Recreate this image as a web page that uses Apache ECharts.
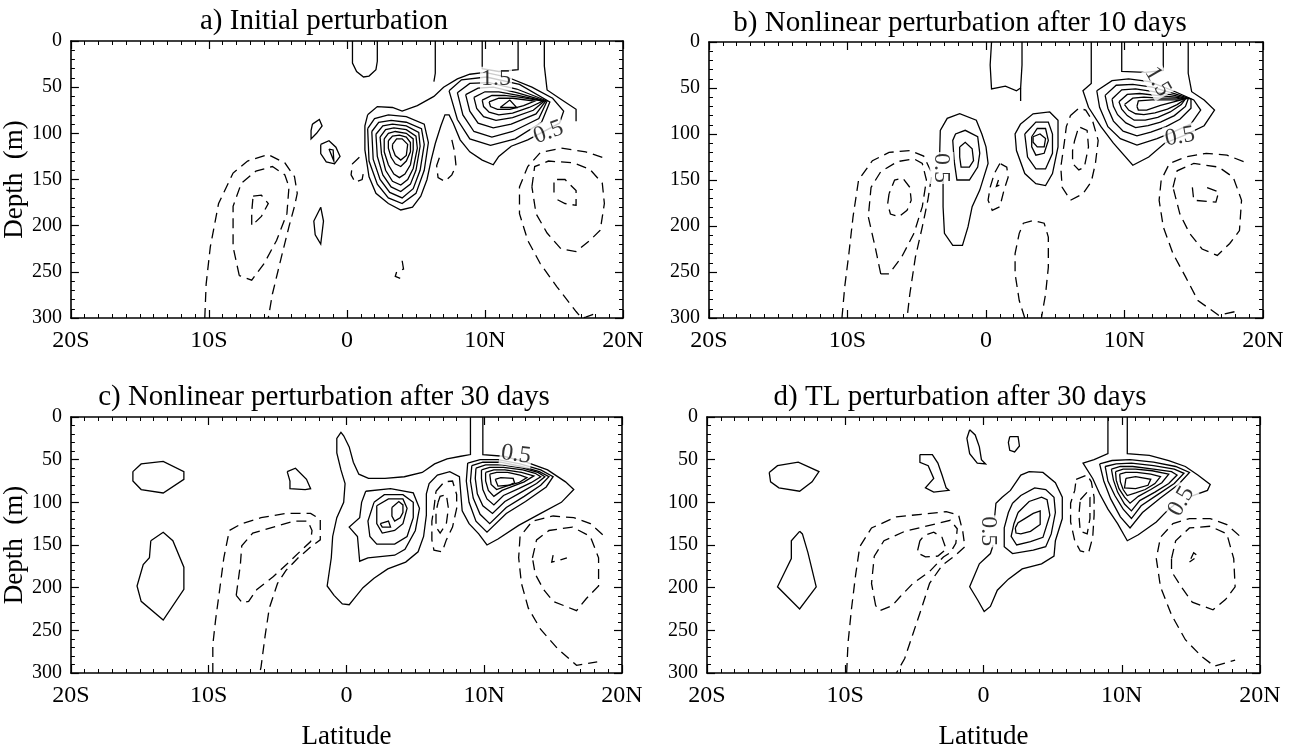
<!DOCTYPE html>
<html>
<head>
<meta charset="utf-8">
<script src="https://cdn.jsdelivr.net/npm/echarts@6/dist/echarts.min.js"></script>
<style>
  html, body { margin: 0; padding: 0; background: #fff; }
  #chart { width: 1297px; height: 751px; }
</style>
</head>
<body>
<div id="chart"></div>
<script>
// contour polylines: [latitude, depth(m)]
var latTicks = ['20S', '10S', '0', '10N', '20N']
var depthTicks = [0, 50, 100, 150, 200, 250, 300]
var panelTitles = [
  'a) Initial perturbation',
  'b) Nonlinear perturbation after 10 days',
  'c) Nonlinear perturbation after 30 days',
  'd) TL perturbation after 30 days'
]

// panel a
var aSolid = [
  [[0.4,0],[0.4,24],[0.7,33],[1.2,39],[1.6,38],[2.1,31],[2.2,22],[2.2,0]],
  [[6.4,0],[6.4,35],[6.3,44]],
  [[9.8,0],[9.8,30],[11.0,33],[12.4,31],[12.4,0]],
  [[14.3,0],[14.3,27],[14.5,53],[15.5,63],[16.6,74],[16.6,87]],
  [[1.5,80],[2.2,71],[3.3,72],[4.0,76],[5.1,70],[6.3,60],[7.0,50],[8.0,41],[8.9,36],[10.0,34],[11.6,39],[13.4,50],[14.9,62],[15.7,76],[15.4,89],[14.0,100],[13.1,107],[11.9,114],[11.0,125],[10.6,134],[9.8,129],[8.9,120],[8.2,107],[7.7,89],[7.4,80],[7.1,80],[6.8,92],[6.4,111],[6.1,129],[5.8,150],[5.35,168],[4.75,180],[3.9,183],[3.0,176],[2.1,165],[1.6,147],[1.3,118],[1.3,92],[1.5,80]],
  [[7.4,54],[8.3,42],[10.1,39],[12.5,47],[14.7,66],[14.1,88],[12.2,106],[10.4,113],[8.9,106],[8.0,85],[7.4,54]],
  [[8.0,56],[8.9,46],[10.3,45],[12.3,52],[14.5,65],[13.9,84],[12.0,98],[10.5,104],[9.2,98],[8.4,80],[8.0,56]],
  [[8.6,58],[9.5,51],[10.6,50],[12.3,56],[14.4,65],[13.7,79],[11.9,90],[10.6,94],[9.5,89],[8.9,76],[8.6,58]],
  [[9.2,61],[10.0,55],[11.0,55],[12.4,59],[14.3,65],[13.5,75],[12.0,83],[10.8,86],[9.9,82],[9.4,73],[9.2,61]],
  [[9.8,64],[10.5,59],[11.4,59],[12.6,61],[14.2,65],[13.2,72],[12.0,78],[11.0,80],[10.3,77],[9.9,71],[9.8,64]],
  [[10.3,66],[11.0,62],[12.0,62],[13.6,65],[12.8,70],[11.8,74],[10.9,74],[10.4,71],[10.3,66]],
  [[11.1,72],[11.8,64],[12.3,72],[11.1,72]],
  [[1.5,95],[2.0,84],[3.0,80],[4.3,82],[5.6,90],[5.9,110],[5.6,140],[5.0,165],[4.0,176],[3.0,170],[2.2,155],[1.6,130],[1.5,95]],
  [[1.8,98],[2.3,88],[3.2,86],[4.3,88],[5.4,95],[5.6,112],[5.3,140],[4.8,160],[4.0,170],[3.1,164],[2.4,150],[1.9,128],[1.8,98]],
  [[2.1,101],[2.6,92],[3.3,90],[4.3,92],[5.2,99],[5.3,114],[5.0,140],[4.6,155],[3.9,163],[3.2,158],[2.6,145],[2.2,125],[2.1,101]],
  [[2.4,104],[2.8,96],[3.4,94],[4.3,96],[5.0,103],[5.1,116],[4.8,138],[4.4,150],[3.9,156],[3.3,152],[2.8,140],[2.5,122],[2.4,104]],
  [[2.7,106],[3.0,100],[3.5,98],[4.3,100],[4.8,106],[4.8,118],[4.6,134],[4.2,144],[3.8,148],[3.4,144],[3.0,134],[2.7,120],[2.7,106]],
  [[3.0,108],[3.3,103],[3.8,102],[4.3,104],[4.6,110],[4.6,120],[4.3,130],[3.9,136],[3.5,133],[3.2,126],[3.0,116],[3.0,108]],
  [[3.3,112],[3.6,106],[4.0,106],[4.4,112],[4.3,124],[3.9,129],[3.5,124],[3.3,116],[3.3,112]],
  [[-2.5,90],[-2.0,85],[-1.8,92],[-2.2,100],[-2.6,106],[-2.6,97],[-2.5,90]],
  [[-1.9,112],[-1.3,108],[-0.8,115],[-0.5,125],[-0.9,133],[-1.5,131],[-1.9,122],[-1.9,112]],
  [[-1.3,117],[-1.0,118],[-0.95,130],[-1.3,117]],
  [[-1.9,180],[-1.7,195],[-1.9,220],[-2.3,210],[-2.4,195],[-1.9,180]]
]
var aDashed = [
  [[0.9,126],[0.4,133],[0.3,145],[0.6,153],[1.1,150],[1.2,142]],
  [[7.6,107],[7.8,120],[7.9,135],[7.6,145],[7.1,152],[6.6,148],[6.5,135],[6.8,122]],
  [[4.0,238],[4.1,247],[3.6,250],[3.5,255],[4.0,258]],
  [[-10.3,300],[-10.2,263],[-9.9,223],[-9.3,176],[-8.25,143],[-7.2,130],[-5.7,123],[-4.5,132],[-3.8,147],[-3.6,165],[-3.8,179],[-4.2,201],[-4.8,237],[-5.4,274],[-5.7,300]],
  [[-7.8,254],[-8.25,223],[-8.25,179],[-7.65,154],[-6.6,141],[-5.4,136],[-4.5,145],[-4.2,158],[-4.35,187],[-5.1,216],[-6.0,241],[-6.9,259],[-7.8,254]],
  [[-6.8,168],[-6.2,167],[-5.7,176],[-6.2,190],[-6.9,200],[-6.9,185],[-6.8,168]],
  [[18.5,126],[17.3,120],[15.5,116],[14.0,121],[13.1,136],[12.5,158],[12.5,187],[13.1,216],[14.0,241],[15.2,266],[16.6,293],[17.0,300],[17.3,299],[18.2,294]],
  [[13.4,158],[13.6,136],[14.6,130],[16.4,132],[17.6,139],[18.5,154],[18.65,176],[18.35,205],[17.6,216],[16.6,228],[15.5,225],[14.5,208],[13.7,187],[13.4,158]],
  [[15.0,164],[15.0,150],[15.8,150],[16.6,162],[16.6,178],[15.8,176],[15.0,170]]
]
var aLabels = [[10.8, 41, '1.5'], [14.6, 99, '0.5']]
var aLabelAngles = [0, 20]

// panel b
var bSolid = [
  [[0.4,0],[0.3,25],[0.4,51],[1.4,48],[2.2,53],[2.5,50],[2.6,25],[2.6,0]],
  [[2.5,50],[2.5,64]],
  [[7.6,0],[7.6,27],[7.6,45],[7.0,53],[7.4,71],[8.3,92],[9.2,110],[10.6,134],[11.75,125],[12.9,110],[14.4,101],[15.75,91],[16.5,74],[15.75,63],[14.85,54],[14.6,34],[14.6,0]],
  [[9.8,0],[9.8,32],[11.5,33],[12.8,31],[12.8,0]],
  [[8.0,53],[9.1,42],[10.3,40],[11.8,43],[13.5,53],[15.0,63],[15.5,74],[14.8,89],[13.5,98],[12.35,105],[10.9,112],[9.7,105],[8.8,92],[8.2,71],[8.0,53]],
  [[8.6,58],[9.4,47],[10.6,46],[12.0,49],[13.6,56],[14.8,62],[14.8,72],[14.0,84],[13.0,92],[11.9,98],[10.9,102],[9.9,97],[9.2,86],[8.8,72],[8.6,58]],
  [[9.1,62],[9.8,52],[10.8,51],[12.1,54],[13.6,58],[14.6,62],[14.4,70],[13.6,80],[12.6,87],[11.7,91],[10.8,93],[10.1,88],[9.5,79],[9.2,70],[9.1,62]],
  [[9.6,65],[10.2,57],[11.1,56],[12.3,58],[13.7,60],[14.4,62],[14.1,68],[13.3,76],[12.4,82],[11.5,85],[10.7,85],[10.2,80],[9.8,73],[9.6,65]],
  [[10.0,68],[10.6,61],[11.4,60],[12.5,61],[13.8,61],[14.3,63],[13.8,68],[13.1,73],[12.2,77],[11.4,79],[10.8,78],[10.3,74],[10.0,68]],
  [[10.9,70],[11.0,64],[12.0,63],[13.2,63],[14.1,63],[12.6,69],[11.6,74],[11.0,74],[10.9,70]],
  [[-3.35,125],[-3.3,96],[-2.8,83],[-1.9,78],[-0.7,85],[-0.3,100],[0.0,114],[0.15,132],[-0.45,161],[-1.0,179],[-1.3,201],[-1.7,221],[-2.4,221],[-3.0,208],[-3.1,179],[-3.1,158],[-3.1,150]],
  [[-2.3,129],[-2.4,107],[-2.2,100],[-1.5,96],[-0.6,103],[-0.45,121],[-0.6,136],[-1.2,150],[-2.1,150],[-2.3,129]],
  [[-1.9,114],[-1.5,109],[-1.0,116],[-0.9,129],[-1.2,136],[-1.8,136],[-1.9,125],[-1.9,114]],
  [[2.5,89],[3.4,78],[4.6,76],[5.2,85],[5.2,114],[4.8,143],[4.3,156],[3.6,154],[2.8,143],[2.2,118],[2.1,100],[2.5,89]],
  [[2.8,100],[3.6,87],[4.5,87],[4.8,100],[4.8,121],[4.3,138],[3.6,138],[3.0,125],[2.8,100]],
  [[3.3,103],[3.7,94],[4.3,94],[4.5,107],[4.2,121],[3.6,123],[3.3,114],[3.3,103]],
  [[3.4,103],[3.9,100],[4.3,105],[4.2,114],[3.7,114],[3.4,109],[3.4,103]]
]
var bDashed = [
  [[6.1,80],[6.7,72],[7.2,74],[7.7,86],[8.1,107],[7.9,132],[7.6,152],[7.0,165],[6.1,172],[5.5,158],[5.4,136],[5.65,110],[5.8,92],[6.1,80]],
  [[6.4,107],[6.7,92],[7.3,96],[7.4,114],[7.1,136],[6.7,139],[6.25,132],[6.25,118],[6.4,107]],
  [[1.0,132],[0.6,143],[0.3,158],[0.15,172],[0.45,183],[1.0,179],[1.3,161],[1.6,147],[1.5,136],[1.0,132]],
  [[0.9,150],[0.75,157],[1.2,154]],
  [[2.8,300],[2.4,281],[2.1,252],[2.1,230],[2.4,208],[2.7,197],[3.4,194],[4.2,197],[4.5,212],[4.5,245],[4.3,274],[4.0,300]],
  [[-10.4,300],[-10.2,266],[-9.9,230],[-9.6,190],[-9.2,150],[-8.2,129],[-7.0,120],[-5.5,118],[-4.5,124],[-3.9,143],[-4.2,172],[-4.6,201],[-5.1,234],[-5.5,274],[-5.7,300]],
  [[-7.6,252],[-8.0,223],[-8.5,190],[-8.3,158],[-7.6,141],[-6.4,130],[-5.2,127],[-4.6,132],[-4.3,150],[-4.6,179],[-5.2,208],[-6.1,234],[-7.0,252],[-7.6,252]],
  [[-7.0,165],[-7.1,176],[-6.9,187],[-6.3,190],[-5.7,183],[-5.4,172],[-5.5,158],[-6.0,148],[-6.6,150],[-7.0,165]],
  [[18.6,130],[17.4,123],[15.9,121],[14.4,125],[13.25,132],[12.65,150],[12.5,172],[12.8,201],[13.5,230],[14.4,255],[15.3,281],[16.8,297],[18.3,292]],
  [[13.5,158],[13.8,140],[15.0,132],[16.8,136],[17.85,147],[18.45,172],[18.3,205],[17.6,219],[16.7,232],[15.6,225],[14.7,208],[14.0,187],[13.5,158]],
  [[14.9,158],[15.0,172],[16.6,174],[16.8,163],[15.9,158]]
]
var bLabels = [[12.4, 43, '1.5'], [14.0, 103, '0.5'], [-3.2, 137, '0.5']]
var bLabelAngles = [-60, 10, -90]

// panel c
var cSolid = [
  [[9.0,0],[9.0,44],[8.3,46],[7.3,49],[6.4,55],[5.5,65],[4.2,70],[2.8,72],[1.6,72],[0.9,67],[0.5,53],[0.2,35],[-0.2,22],[-0.4,18],[-0.7,25],[-0.7,42],[-0.4,62],[-0.1,78],[-0.2,100],[-0.7,118],[-1.0,140],[-1.1,165],[-1.4,198],[-0.9,209],[-0.3,219],[0.2,220],[0.6,212],[1.2,200],[2.0,189],[3.0,178],[4.3,170],[5.2,158],[5.6,140],[5.8,115],[5.8,90],[6.0,78],[6.6,68],[7.5,64],[8.2,70],[8.3,90],[8.4,110],[8.9,125],[9.6,137],[10.2,150],[11.0,143],[12.5,127],[14.1,113],[15.6,100],[16.5,85],[15.9,76],[14.6,62],[12.9,52],[11.4,46],[9.9,44],[9.9,0]],
  [[8.8,54],[9.7,50],[11.0,50],[12.6,55],[14.1,62],[15.0,70],[14.5,82],[13.0,99],[11.6,113],[10.2,135],[9.4,122],[8.9,100],[8.7,75],[8.8,54]],
  [[9.1,57],[9.9,53],[11.2,53],[12.7,58],[14.0,64],[14.7,70],[14.1,80],[12.9,93],[11.6,106],[10.4,125],[9.7,114],[9.2,95],[9.0,75],[9.1,57]],
  [[9.4,60],[10.1,56],[11.3,56],[12.8,60],[13.9,65],[14.4,70],[13.8,78],[12.7,88],[11.5,99],[10.6,113],[9.9,104],[9.5,90],[9.35,72],[9.4,60]],
  [[9.8,62],[10.4,59],[11.4,59],[12.8,62],[13.7,66],[14.1,70],[13.4,77],[12.5,84],[11.4,92],[10.7,103],[10.2,96],[9.9,85],[9.8,72],[9.8,62]],
  [[10.1,65],[10.7,62],[11.5,62],[12.7,65],[13.6,69],[12.9,76],[12.1,81],[11.3,86],[10.7,93],[10.3,86],[10.1,75],[10.1,65]],
  [[10.4,67],[10.9,65],[11.7,65],[12.6,68],[13.1,71],[12.5,77],[11.6,81],[10.9,85],[10.5,79],[10.4,67]],
  [[10.8,73],[11.2,71],[12.1,72],[12.2,77],[11.8,80],[11.0,81],[10.8,73]],
  [[1.4,87],[3.2,84],[4.85,89],[5.3,107],[5.0,133],[4.25,155],[3.5,162],[1.56,165],[0.96,169],[0.8,140],[0.2,129],[0.96,118],[1.1,100],[1.4,87]],
  [[2.0,100],[2.75,91],[4.1,91],[4.85,100],[4.85,118],[4.4,140],[3.5,149],[2.2,149],[1.7,140],[1.56,122],[2.0,100]],
  [[2.2,104],[3.05,96],[4.1,96],[4.4,107],[4.1,125],[3.5,133],[2.6,136],[2.2,125],[2.2,104]],
  [[3.3,106],[3.8,99],[4.1,103],[4.1,112],[3.9,118],[3.5,122],[3.3,116],[3.3,106]],
  [[2.45,125],[3.05,122],[3.2,129],[2.6,129],[2.45,125]],
  [[-15.5,64],[-14.9,55],[-13.3,52],[-11.8,64],[-11.8,73],[-13.3,89],[-14.9,85],[-15.5,75],[-15.5,64]],
  [[-14.2,145],[-13.3,135],[-12.6,145],[-11.8,176],[-11.8,202],[-13.3,238],[-14.9,216],[-15.2,198],[-14.75,173],[-14.3,165],[-14.2,145]],
  [[-4.3,64],[-3.7,60],[-2.9,73],[-2.6,84],[-3.0,85],[-4.1,84],[-4.1,75],[-4.3,64]]
]
var cDashed = [
  [[6.5,87],[7.1,76],[7.7,75],[8.0,91],[8.0,107],[7.7,129],[7.25,144],[6.95,158],[6.35,156],[6.2,144],[6.2,122],[6.35,107],[6.5,87]],
  [[6.65,100],[6.8,93],[7.25,91],[7.4,107],[7.25,125],[6.8,136],[6.5,129],[6.5,111],[6.65,100]],
  [[-9.7,300],[-9.7,267],[-9.5,238],[-9.2,202],[-8.9,165],[-8.5,133],[-7.6,125],[-6.2,118],[-4.4,113],[-2.6,113],[-1.9,120],[-1.9,144],[-2.5,151],[-3.5,165],[-4.4,180],[-5.0,195],[-5.6,224],[-5.9,256],[-6.2,293],[-6.3,300]],
  [[-8.0,209],[-7.7,173],[-7.6,151],[-6.8,136],[-5.3,129],[-3.8,122],[-2.8,122],[-2.5,133],[-2.6,146],[-3.2,155],[-4.1,169],[-5.3,187],[-6.5,202],[-7.1,216],[-7.55,218],[-8.0,209]],
  [[18.6,138],[17.7,125],[16.5,118],[15.0,116],[13.5,122],[12.6,140],[12.5,165],[12.7,195],[13.2,224],[14.1,249],[15.3,271],[16.7,291],[18.2,287]],
  [[13.5,165],[13.8,144],[14.7,133],[16.4,129],[17.7,140],[18.3,165],[18.3,198],[17.4,213],[16.7,227],[15.0,216],[14.3,202],[13.7,184],[13.5,165]],
  [[15.0,162],[14.9,170],[15.6,167],[16.0,165]]
]
var cLabels = [[12.3, 44, '0.5']]
var cLabelAngles = [-8]

// panel d
var dSolid = [
  [[-15.5,65],[-14.9,57],[-13.4,53],[-11.9,64],[-12.4,76],[-13.3,87],[-14.8,83],[-15.4,76],[-15.5,65]],
  [[-13.3,134],[-13.9,145],[-13.9,166],[-14.9,199],[-13.3,225],[-12.1,199],[-12.7,159],[-13.1,137],[-13.3,134]],
  [[-4.6,44],[-3.7,44],[-3.3,54],[-3.0,68],[-2.7,83],[-2.5,86],[-3.6,88],[-4.2,83],[-3.6,72],[-4.0,57],[-4.6,53],[-4.6,44]],
  [[-1.0,15],[-0.6,21],[-0.3,35],[-0.15,50],[0.15,55],[-0.45,54],[-1.0,43],[-1.2,25],[-1.0,15]],
  [[1.9,23],[2.5,23],[2.6,34],[2.25,41],[1.9,39],[1.8,30],[1.9,23]],
  [[9.0,0],[9.0,43],[8.0,50],[7.2,54],[7.9,72],[8.4,90],[9.0,108],[9.7,125],[10.4,145],[11.2,138],[12.5,123],[13.4,108],[13.8,103]],
  [[15.0,93],[16.2,86],[16.4,79],[15.5,68],[14.6,58],[13.4,51],[12.0,45],[10.4,43],[10.4,0]],
  [[8.4,55],[9.3,51],[10.6,50],[12.3,53],[13.9,58],[14.9,65],[14.1,79],[12.8,95],[11.5,112],[10.6,130],[9.9,117],[9.2,96],[8.7,75],[8.4,55]],
  [[8.8,58],[9.6,55],[10.7,54],[12.3,57],[13.8,61],[14.5,66],[13.8,78],[12.6,91],[11.4,104],[10.7,119],[10.1,108],[9.5,92],[9.0,75],[8.8,58]],
  [[9.25,61],[9.9,58],[10.8,58],[12.3,61],[13.6,64],[14.0,68],[13.4,78],[12.4,88],[11.3,98],[10.7,110],[10.2,102],[9.7,88],[9.4,74],[9.25,61]],
  [[9.55,64],[10.1,61],[11.0,61],[12.2,63],[13.4,67],[12.9,77],[12.1,85],[11.2,93],[10.6,101],[10.2,94],[9.8,84],[9.6,74],[9.55,64]],
  [[9.85,67],[10.3,65],[11.1,65],[12.1,67],[12.8,70],[12.4,78],[11.7,85],[11.0,89],[10.4,92],[10.1,85],[9.9,76],[9.85,67]],
  [[10.3,72],[11.0,70],[12.1,73],[11.9,80],[11.0,84],[10.2,83],[10.3,72]],
  [[0.7,150],[0.5,160],[-0.3,172],[-1.0,199],[-0.4,215],[0.05,228],[0.5,222],[1.0,203],[1.8,190],[2.8,178],[4.2,172],[5.1,163],[5.2,145],[5.7,119],[5.7,94],[5.2,77],[4.3,65],[3.3,64],[2.7,68],[1.95,86],[1.35,94],[0.9,101],[0.8,118]],
  [[2.1,101],[2.7,92],[3.7,83],[4.5,85],[5.1,94],[5.2,112],[4.9,137],[4.5,152],[3.6,156],[2.1,160],[1.5,152],[1.5,130],[1.8,112],[2.1,101]],
  [[2.5,112],[3.3,99],[4.2,94],[4.6,97],[4.8,115],[4.3,141],[3.4,146],[2.4,150],[2.0,140],[2.2,125],[2.5,112]],
  [[2.3,130],[2.5,124],[2.9,120],[3.6,113],[4.1,110],[4.1,126],[3.4,134],[2.7,137],[2.35,136],[2.3,130]]
]
var dDashed = [
  [[6.7,73],[7.5,68],[7.8,76],[8.0,94],[8.0,115],[7.9,141],[7.6,159],[7.0,157],[6.6,145],[6.3,123],[6.3,101],[6.6,86],[6.7,73]],
  [[7.0,97],[7.5,88],[7.7,94],[7.7,119],[7.5,137],[7.0,134],[6.9,115],[7.0,97]],
  [[-9.9,300],[-9.8,265],[-9.55,225],[-9.25,185],[-8.95,152],[-8.1,130],[-6.3,117],[-4.5,114],[-2.7,111],[-1.8,115],[-1.5,134],[-1.35,152],[-2.1,163],[-3.0,174],[-3.9,195],[-4.5,225],[-5.1,254],[-5.7,283],[-6.3,300]],
  [[-7.8,221],[-8.1,195],[-7.9,163],[-7.2,145],[-5.7,134],[-3.9,127],[-2.4,121],[-1.9,131],[-2.0,148],[-2.4,159],[-2.9,164],[-3.9,181],[-5.1,195],[-6.0,210],[-6.6,221],[-7.5,227],[-7.8,221]],
  [[-4.6,145],[-4.8,159],[-4.2,164],[-3.3,163],[-2.7,155],[-3.0,141],[-3.6,135],[-4.3,139],[-4.6,145]],
  [[18.5,139],[17.6,126],[16.4,119],[14.9,119],[13.7,125],[12.8,141],[12.5,166],[12.8,199],[13.6,232],[14.6,261],[15.8,281],[16.7,292],[18.2,285]],
  [[13.6,166],[13.9,145],[14.9,130],[16.4,128],[17.6,137],[18.1,166],[18.2,199],[17.5,214],[16.6,226],[15.1,217],[14.3,199],[13.6,181],[13.6,166]],
  [[15.0,166],[15.2,159],[15.5,163],[14.9,170]]
]
var dLabels = [[0.35, 134, '0.5'], [14.3, 99, '0.5']]
var dLabelAngles = [-90, 60]

var FONT = 'Liberation Serif, Times New Roman, serif'
var grids = [
  { left: 67, top: 41, width: 556, height: 277 },
  { left: 709, top: 42, width: 554, height: 276 },
  { left: 68, top: 417, width: 554, height: 276 },
  { left: 707, top: 417, width: 553, height: 276 }
]
var titlePos = [[319, 2], [955, 4], [319, 378], [955, 378]]
var panels = [
  { solid: aSolid, dashed: aDashed, labels: aLabels, angles: aLabelAngles },
  { solid: bSolid, dashed: bDashed, labels: bLabels, angles: bLabelAngles },
  { solid: cSolid, dashed: cDashed, labels: cLabels, angles: cLabelAngles },
  { solid: dSolid, dashed: dDashed, labels: dLabels, angles: dLabelAngles }
]

function latLabel(v) {
  var i = Math.round((v + 20) / 10)
  return latTicks[i] !== undefined ? latTicks[i] : ''
}

var xAxes = [], yAxes = [], series = [], titles = []
var axisLineStyle = { color: '#000', width: 1.6 }

panels.forEach(function (p, i) {
  var bottomRow = i >= 2
  var leftCol = i % 2 === 0
  titles.push({
    text: panelTitles[i], left: titlePos[i][0], top: titlePos[i][1], textAlign: 'center',
    textStyle: { fontFamily: FONT, fontSize: 29, fontWeight: 'normal', color: '#000' }
  })
  var xBase = {
    gridIndex: i, type: 'value', min: -20, max: 20, interval: 10,
    axisLine: { show: true, onZero: false, lineStyle: axisLineStyle },
    axisTick: { show: true, inside: true, length: 8, lineStyle: { color: '#000', width: 1.2 } },
    minorTick: { show: true, splitNumber: 10, length: 4, lineStyle: { color: '#000', width: 1 } },
    splitLine: { show: false }, minorSplitLine: { show: false }
  }
  xAxes.push(Object.assign({}, xBase, {
    position: 'bottom',
    axisLabel: { formatter: latLabel, fontFamily: FONT, fontSize: 24, color: '#000', margin: 11,
      showMinLabel: true, showMaxLabel: true },
    name: bottomRow ? 'Latitude' : '', nameLocation: 'middle', nameGap: 50,
    nameTextStyle: { fontFamily: FONT, fontSize: 27, color: '#000' }
  }))
  xAxes.push(Object.assign({}, xBase, { position: 'top', axisLabel: { show: false } }))
  var yBase = {
    gridIndex: i, type: 'value', inverse: true, min: 0, max: 300, interval: 50,
    axisLine: { show: true, onZero: false, lineStyle: axisLineStyle },
    axisTick: { show: true, inside: true, length: 8, lineStyle: { color: '#000', width: 1.2 } },
    minorTick: { show: true, splitNumber: 5, length: 4, lineStyle: { color: '#000', width: 1 } },
    splitLine: { show: false }, minorSplitLine: { show: false }
  }
  yAxes.push(Object.assign({}, yBase, {
    position: 'left',
    axisLabel: { fontFamily: FONT, fontSize: 20, color: '#000', margin: 9,
      formatter: function (v) { return depthTicks.indexOf(v) >= 0 ? String(v) : '' } },
    name: leftCol ? 'Depth  (m)' : '', nameLocation: 'middle', nameRotate: 90, nameGap: 40,
    nameTextStyle: { fontFamily: FONT, fontSize: 27, color: '#000' }
  }))
  yAxes.push(Object.assign({}, yBase, { position: 'right', axisLabel: { show: false } }))

  var xi = i * 2, yi = i * 2
  series.push({
    type: 'lines', coordinateSystem: 'cartesian2d', polyline: true,
    xAxisIndex: xi, yAxisIndex: yi, silent: true, clip: true,
    lineStyle: { color: '#000', width: 1.3, type: 'solid', opacity: 1 },
    data: p.solid.map(function (c) { return { coords: c } })
  })
  series.push({
    type: 'lines', coordinateSystem: 'cartesian2d', polyline: true,
    xAxisIndex: xi, yAxisIndex: yi, silent: true, clip: true,
    lineStyle: { color: '#000', width: 1.3, type: [10, 6], opacity: 1 },
    data: p.dashed.map(function (c) { return { coords: c } })
  })
  series.push({
    type: 'scatter', xAxisIndex: xi, yAxisIndex: yi, silent: true,
    symbolSize: 1, itemStyle: { color: 'rgba(0,0,0,0)' }, z: 5,
    data: p.labels.map(function (l, k) {
      return {
        value: [l[0], l[1]], name: l[2],
        label: {
          show: true, position: 'inside', formatter: '{b}', rotate: p.angles[k],
          fontFamily: FONT, fontSize: 24, color: '#000',
          backgroundColor: '#fff', padding: [0, 1]
        }
      }
    })
  })
})

var chart = echarts.init(document.getElementById('chart'), null, { renderer: 'canvas' })
chart.setOption({
  animation: false,
  backgroundColor: '#fff',
  title: titles,
  grid: grids,
  xAxis: xAxes,
  yAxis: yAxes,
  series: series
})
</script>
</body>
</html>
